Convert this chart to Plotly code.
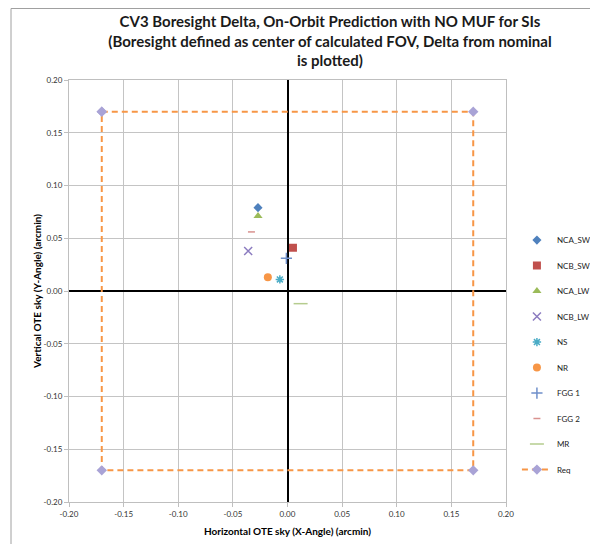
import plotly.graph_objects as go

# ---- data ----
series_names = ["NCA_SW", "NCB_SW", "NCA_LW", "NCB_LW", "NS", "NR", "FGG 1", "FGG 2", "MR"]
x_vals = [-0.027, 0.005, -0.027, -0.036, -0.007, -0.018, -0.001, -0.033, 0.012]
y_vals = [0.079, 0.041, 0.071, 0.038, 0.011, 0.013, 0.031, 0.056, -0.012]

req_x = [-0.17, 0.17, 0.17, -0.17, -0.17]
req_y = [0.17, 0.17, -0.17, -0.17, 0.17]

tick_vals = [-0.20, -0.15, -0.10, -0.05, 0.00, 0.05, 0.10, 0.15, 0.20]
tick_text = ["-0.20", "-0.15", "-0.10", "-0.05", "0.00", "0.05", "0.10", "0.15", "0.20"]

# ---- styles ----
symbols = ["diamond", "square", "triangle-up", "x-thin-open", "asterisk-open",
           "circle", "cross-thin-open", "line-ew-open", "line-ew-open"]
colors = ["#4F81BD", "#C0504D", "#9BBB59", "#8C7CC0", "#4BACC6",
          "#F79646", "#6F8FCA", "#D9928F", "#B5CC8E"]
sizes = [7, 8, 8, 8, 7, 8, 8, 5, 10]

FONT = "Lato"
W, H = 582, 544
L, R, T, B = 61, 84, 72, 50
PW, PH = W - L - R, H - T - B

fig = go.Figure()

for i, name in enumerate(series_names):
    open_sym = symbols[i].endswith("open")
    fig.add_trace(go.Scatter(
        x=[x_vals[i]], y=[y_vals[i]], mode="markers", name=name,
        legendgroup=name,
        marker=dict(symbol=symbols[i], size=sizes[i], color=colors[i],
                    line=dict(color=colors[i], width=1.5 if open_sym else 0)),
    ))

fig.add_trace(go.Scatter(
    x=req_x, y=req_y, mode="lines+markers", name="Req", legendgroup="Req",
    line=dict(color="#F79646", width=2, dash="6px,4px"),
    marker=dict(symbol="diamond", size=8, color="#A9A3D6"),
))

axis_common = dict(
    range=[-0.2, 0.2], tickvals=tick_vals, ticktext=tick_text, automargin=False,
    showgrid=True, gridcolor="#C4C4C4", gridwidth=1,
    zeroline=True, zerolinecolor="#000000", zerolinewidth=2,
    showline=True, linecolor="#BFBFBF", linewidth=1, mirror=True,
    ticks="outside", ticklen=4, tickcolor="#BFBFBF",
    tickfont=dict(family=FONT, size=8, color="#333333"),
)

fig.update_layout(
    template="none",
    width=W, height=H,
    margin=dict(l=L, r=R, t=T, b=B, autoexpand=False),
    paper_bgcolor="white", plot_bgcolor="white",
    font=dict(family=FONT, color="#000000"),
    title=dict(
        text="CV3 Boresight Delta, On-Orbit Prediction with NO MUF for SIs<br>"
             "(Boresight defined as center of calculated FOV, Delta from nominal<br>"
             "is plotted)",
        x=322 / W, xanchor="center", y=1 - 19 / H, yanchor="top",
        font=dict(family=FONT, size=15, color="#1a1a1a", weight="bold"),
    ),
    xaxis=dict(axis_common, title=dict(text="<b>Horizontal OTE sky (X-Angle) (arcmin)</b>",
                                       font=dict(family=FONT, size=10), standoff=10)),
    yaxis=dict(axis_common, title=dict(text="<b>Vertical OTE sky (Y-Angle) (arcmin)</b>",
                                       font=dict(family=FONT, size=10), standoff=0)),
    showlegend=True,
    legend=dict(x=1.025, y=0.655, xanchor="left", yanchor="top",
                font=dict(family=FONT, size=8, color="#222222"),
                tracegroupgap=6.5, itemwidth=30, bgcolor="rgba(0,0,0,0)"),
    shapes=[
        dict(type="line", xref="paper", yref="paper",
             x0=(3 - L) / PW, x1=(3 - L) / PW, y0=(H - B - 0.5) / PH, y1=(H - B - 600) / PH,
             line=dict(color="#A0A0A0", width=1)),
        dict(type="line", xref="paper", yref="paper",
             x0=(3 - L) / PW, x1=(700 - L) / PW, y0=(H - B - 0.5) / PH, y1=(H - B - 0.5) / PH,
             line=dict(color="#A0A0A0", width=1)),
    ],
)

fig.write_html("out.html")
